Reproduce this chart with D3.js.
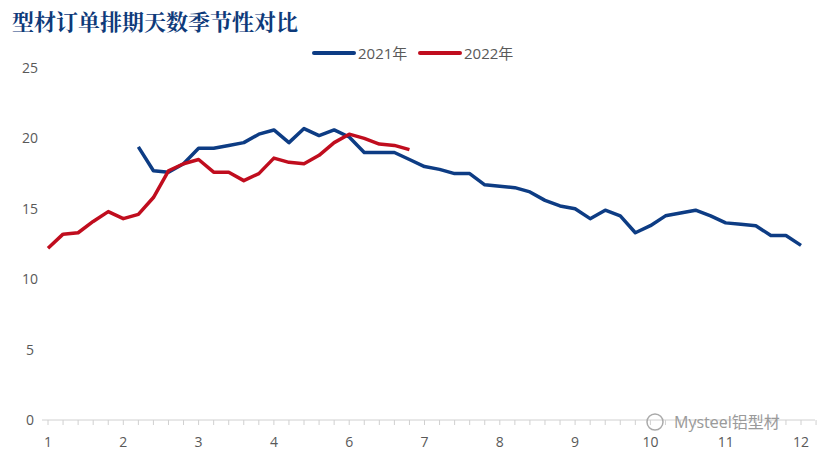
<!DOCTYPE html><html><head><meta charset="utf-8"><script src="https://cdn.jsdelivr.net/npm/d3@7"></script>
<style>body{margin:0;background:#fff}</style></head><body><svg id="c" width="831" height="461"></svg>
<script>
const monthLabels=["1","2","3","4","6","7","8","9","10","11","12"];
const s2021=[null,null,null,null,null,null,19.4,17.7,17.6,18.2,19.3,19.3,19.5,19.7,20.3,20.6,19.7,20.7,20.2,20.6,20.1,19.0,19.0,19.0,18.5,18.0,17.8,17.5,17.5,16.7,16.6,16.5,16.2,15.6,15.2,15.0,14.3,14.9,14.5,13.3,13.8,14.5,14.7,14.9,14.5,14.0,13.9,13.8,13.1,13.1,12.4];
const s2022=[12.2,13.2,13.3,14.1,14.8,14.3,14.6,15.8,17.7,18.2,18.5,17.6,17.6,17.0,17.5,18.6,18.3,18.2,18.8,19.7,20.3,20.0,19.6,19.5,19.2];
const yTicks=[0,5,10,15,20,25];
const svg=d3.select("#c");
const x=d3.scaleLinear().domain([0,50]).range([48,801]);
const y=d3.scaleLinear().domain([0,25]).range([420,68]);
const f="'Open Sans','Noto Sans CJK SC',sans-serif";
svg.append("text").attr("x",12).attr("y",30).text("型材订单排期天数季节性对比").attr("font-family","'Noto Serif CJK SC','Noto Sans CJK SC',serif").attr("font-weight","bold").attr("font-size",22).attr("fill","#0e3a7a");
const g=svg.append("g");
g.selectAll(".yt").data(yTicks).join("text").attr("x",30).attr("y",d=>y(d)+5).attr("text-anchor","middle").attr("font-family",f).attr("font-size",14).attr("fill","#595959").text(d=>d);
g.append("line").attr("x1",42).attr("x2",815).attr("y1",420).attr("y2",420).attr("stroke","#d0d0d0");
g.selectAll(".mt").data(d3.range(0,52)).join("line").attr("x1",d=>x(d)).attr("x2",d=>x(d)).attr("y1",420).attr("y2",425).attr("stroke","#d0d0d0");
g.selectAll(".xl").data(monthLabels).join("text").attr("x",(d,i)=>x(i*5)).attr("y",447).attr("text-anchor","middle").attr("font-family",f).attr("font-size",14).attr("fill","#595959").text(d=>d);
const line=d3.line().defined(d=>d!=null).x((d,i)=>x(i)).y(d=>y(d));
g.append("path").datum(s2021).attr("d",line).attr("fill","none").attr("stroke","#0d3c84").attr("stroke-width",3.5).attr("stroke-linejoin","round");
g.append("path").datum(s2022).attr("d",line).attr("fill","none").attr("stroke","#c00d1e").attr("stroke-width",3.5).attr("stroke-linejoin","round");
const leg=[["2021年","#0d3c84",314],["2022年","#c00d1e",420]];
leg.forEach(([t,c,lx])=>{svg.append("line").attr("x1",lx).attr("x2",lx+40).attr("y1",53).attr("y2",53).attr("stroke",c).attr("stroke-width",4).attr("stroke-linecap","round");
svg.append("text").attr("x",lx+44).attr("y",59).text(t).attr("font-family",f).attr("font-size",15).attr("fill","#595959");});
svg.append("text").attr("x",674).attr("y",428).text("Mysteel铝型材").attr("font-family",f).attr("font-size",16).attr("fill","#9a9a9a");
svg.append("circle").attr("cx",655).attr("cy",422).attr("r",8).attr("fill","none").attr("stroke","#aaa").attr("stroke-width",1.5);
</script></body></html>
